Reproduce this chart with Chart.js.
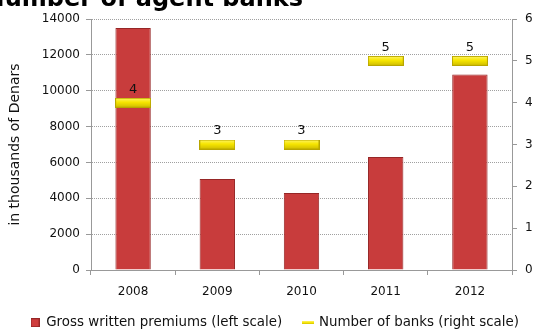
<!DOCTYPE html>
<html>
<head>
<meta charset="utf-8">
<script src="https://cdn.jsdelivr.net/npm/chart.js@4"></script>
<style>
  html, body { margin: 0; padding: 0; background: #fff; }
  #wrap { position: relative; width: 540px; height: 335px; }
</style>
</head>
<body>
<div id="wrap"><canvas id="chart" width="540" height="335"></canvas></div>
<script>
const years = ['2008', '2009', '2010', '2011', '2012']
const premiums = [13500, 5080, 4300, 6300, 10900]
const banks = [4, 3, 3, 5, 5]
const titleText = 'Number of agent banks'
const leftAxisTitle = 'in thousands of Denars'
const seriesNames = ['Gross written premiums (left scale)', 'Number of banks (right scale)']

const FONT = "'DejaVu Sans', sans-serif"

// yellow dash used as the line series marker
function makeDash(w, h) {
  const c = document.createElement('canvas')
  c.width = w
  c.height = h
  const g = c.getContext('2d')
  const grad = g.createLinearGradient(0, 0, 0, h)
  grad.addColorStop(0, '#fff56e')
  grad.addColorStop(0.45, '#f7e600')
  grad.addColorStop(1, '#cdbb00')
  g.fillStyle = grad
  g.fillRect(0, 0, w, h)
  if (h > 4) {
    g.strokeStyle = '#b8a600'
    g.lineWidth = 1
    g.strokeRect(0.5, 0.5, w - 1, h - 1)
  }
  return c
}

function makeBox(w, h) {
  const c = document.createElement('canvas')
  c.width = w
  c.height = h
  const g = c.getContext('2d')
  g.fillStyle = '#cf3d3d'
  g.fillRect(0, 0, w, h)
  g.strokeStyle = '#962626'
  g.strokeRect(0.5, 0.5, w - 1, h - 1)
  return c
}

const dashMarker = makeDash(36, 10)

const barFill = (ctx) => {
  const el = ctx.element
  if (!ctx.chart.chartArea || !el || !el.width) return '#c83c3c'
  const x0 = el.x - el.width / 2
  const grad = ctx.chart.ctx.createLinearGradient(x0, 0, x0 + el.width, 0)
  grad.addColorStop(0, '#bb3333')
  grad.addColorStop(0.12, '#dc4646')
  grad.addColorStop(0.6, '#cf3d3d')
  grad.addColorStop(1, '#9c2727')
  return grad
}

const valueLabels = {
  id: 'valueLabels',
  afterDatasetsDraw(chart) {
    const meta = chart.getDatasetMeta(1)
    const ctx = chart.ctx
    ctx.save()
    ctx.font = '13px ' + FONT
    ctx.fillStyle = '#111'
    ctx.textAlign = 'center'
    ctx.textBaseline = 'bottom'
    meta.data.forEach((pt, i) => {
      ctx.fillText(String(banks[i]), pt.x, pt.y - 7)
    })
    ctx.restore()
  }
}

const cutTitle = {
  id: 'cutTitle',
  afterDraw(chart) {
    const ctx = chart.ctx
    ctx.save()
    ctx.font = "bold 24px 'DejaVu Sans', sans-serif"
    ctx.fillStyle = '#000'
    ctx.textAlign = 'right'
    ctx.textBaseline = 'alphabetic'
    ctx.fillText(titleText, 303, 6)
    ctx.restore()
  }
}

const tickFont = { size: 12, family: FONT }

new Chart(document.getElementById('chart'), {
  data: {
    labels: years,
    datasets: [
      {
        type: 'bar',
        label: seriesNames[0],
        data: premiums,
        yAxisID: 'y',
        backgroundColor: barFill,
        borderColor: '#962626',
        borderWidth: 1,
        barPercentage: 0.42,
        categoryPercentage: 1,
        order: 2
      },
      {
        type: 'line',
        label: seriesNames[1],
        data: banks,
        yAxisID: 'y1',
        showLine: false,
        pointStyle: dashMarker,
        pointRadius: 18,
        pointHoverRadius: 18,
        order: 1
      }
    ]
  },
  options: {
    responsive: false,
    animation: false,
    layout: { padding: { top: 19, left: 0, right: 0, bottom: 0 } },
    plugins: {
      tooltip: { enabled: false },
      legend: {
        position: 'bottom',
        align: 'end',
        maxHeight: 40,
        labels: {
          font: { size: 13.4, family: FONT },
          color: '#111',
          padding: 21,
          usePointStyle: true,
          pointStyleWidth: 9,
          generateLabels: () => [
            { text: seriesNames[0], pointStyle: makeBox(9, 9), datasetIndex: 0, fontColor: '#111' },
            { text: seriesNames[1], pointStyle: makeDash(12, 3), datasetIndex: 1, fontColor: '#111' }
          ]
        }
      }
    },
    scales: {
      x: {
        grid: {
          offset: true,
          drawOnChartArea: false,
          drawTicks: true,
          tickLength: 5,
          tickColor: '#999'
        },
        border: { color: '#999' },
        ticks: { font: tickFont, color: '#111', padding: 10 },
        afterFit: (s) => { s.height = 25 }
      },
      y: {
        position: 'left',
        min: 0,
        max: 14000,
        ticks: {
          stepSize: 2000,
          font: tickFont,
          color: '#111',
          padding: 6,
          callback: (v) => String(v)
        },
        grid: {
          color: '#a0a0a0',
          tickBorderDash: [],
          tickColor: '#999',
          tickLength: 5,
          drawTicks: true
        },
        border: { color: '#999', dash: [1, 1] },
        title: {
          display: true,
          text: leftAxisTitle,
          font: { size: 14, family: FONT },
          color: '#111',
          padding: { top: 7, bottom: 0 }
        },
        afterFit: (s) => { s.width = 91 }
      },
      y1: {
        position: 'right',
        min: 0,
        max: 6,
        ticks: { stepSize: 1, font: tickFont, color: '#111', padding: 8 },
        grid: {
          drawOnChartArea: false,
          tickColor: '#999',
          tickLength: 5
        },
        border: { color: '#999' },
        afterFit: (s) => { s.width = 28 }
      }
    }
  },
  plugins: [valueLabels, cutTitle]
})
</script>
</body>
</html>
